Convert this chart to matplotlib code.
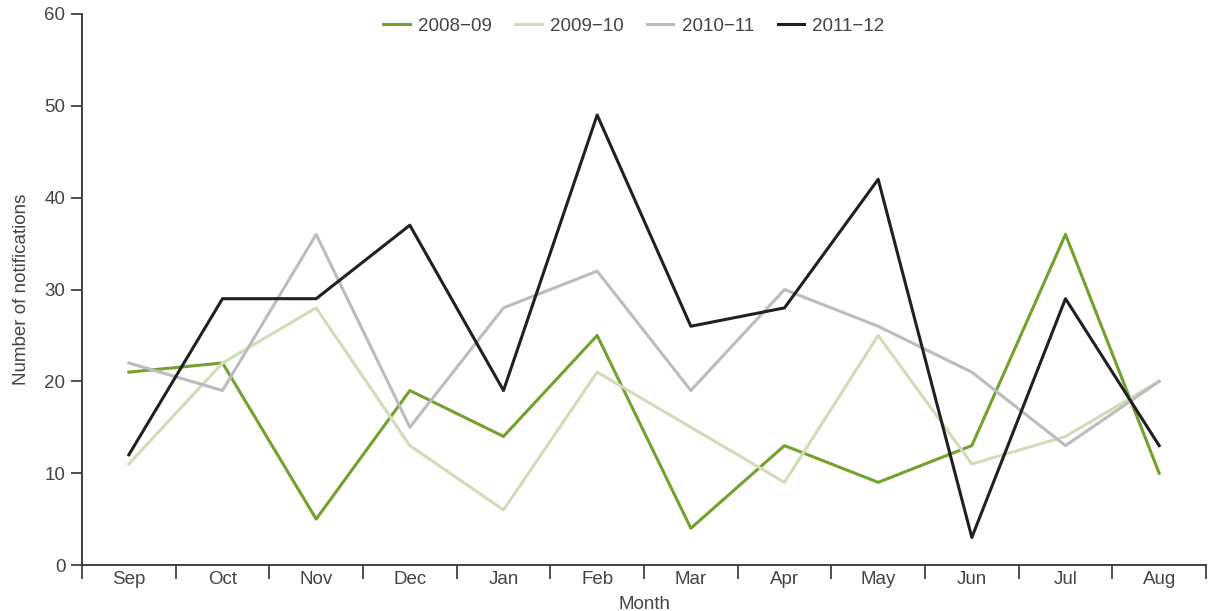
import matplotlib
matplotlib.use("Agg")
import matplotlib.pyplot as plt
import numpy as np

months = ["Sep", "Oct", "Nov", "Dec", "Jan", "Feb", "Mar", "Apr", "May", "Jun", "Jul", "Aug"]
s2008 = [21, 22, 5, 19, 14, 25, 4, 13, 9, 13, 36, 10]
s2009 = [11, 22, 28, 13, 6, 21, 15, 9, 25, 11, 14, 20]
s2010 = [22, 19, 36, 15, 28, 32, 19, 30, 26, 21, 13, 20]
s2011 = [12, 29, 29, 37, 19, 49, 26, 28, 42, 3, 29, 13]
series_labels = ["2008\u221209", "2009\u221210", "2010\u221211", "2011\u221212"]
colors = ["#72a12c", "#d0dcb8", "#bcbcc0", "#231f20"]

plt.rcParams['font.family'] = ['Liberation Sans', 'DejaVu Sans']
fs = 13.5
fig = plt.figure(figsize=(12.08, 6.11), dpi=100)
ax = fig.add_axes([82/1208, 1-565/611, (1206-82)/1208, (565-14)/611])

x = np.arange(len(months))
for data, lab, c in zip([s2008, s2009, s2010, s2011], series_labels, colors):
    ax.plot(x, data, color=c, lw=2.2, label=lab)

ax.set_xlim(-0.5, len(months) - 0.5)
ax.set_ylim(0, 60)
ax.set_yticks(range(0, 61, 10))
ax.set_xticks(np.arange(-0.5, len(months), 1.0))
ax.set_xticklabels([])
ax.set_xticks(x, minor=True)
ax.set_xticklabels(months, minor=True)
ax.tick_params(axis='x', which='major', length=10, width=1.2, color='#333333', direction='out')
ax.tick_params(axis='x', which='minor', length=0, pad=4, labelsize=fs, labelcolor='#444444')
ax.tick_params(axis='y', length=8, width=1.2, color='#333333', labelsize=fs, labelcolor='#444444', pad=4)

for sp in ['top', 'right']:
    ax.spines[sp].set_visible(False)
for sp in ['left', 'bottom']:
    ax.spines[sp].set_color('#333333')
    ax.spines[sp].set_linewidth(1.3)

ax.set_xlabel("Month", fontsize=fs, color='#444444', labelpad=6)
ax.set_ylabel("Number of notifications", fontsize=fs, color='#444444', labelpad=10)

ax.legend(loc='center', bbox_to_anchor=(0.491, 1 - 12/551), ncol=4, frameon=False,
          fontsize=fs, handlelength=1.4, handletextpad=0.45, columnspacing=1.25,
          labelcolor='#444444')

fig.savefig("out.png", dpi=100)
